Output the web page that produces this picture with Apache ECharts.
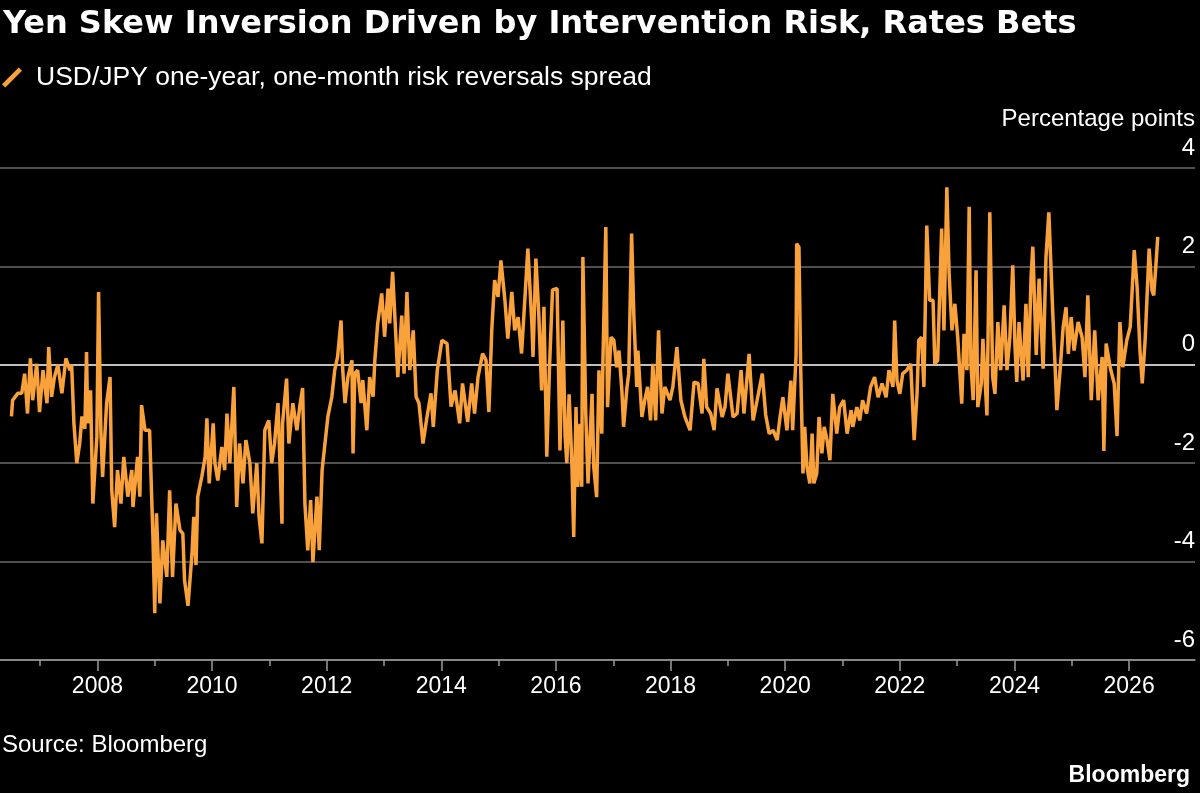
<!DOCTYPE html>
<html>
<head>
<meta charset="utf-8">
<script src="https://cdn.jsdelivr.net/npm/echarts@6.0.0/dist/echarts.min.js"></script>
<style>
  html, body { margin: 0; padding: 0; background: #000; }
  #chart { width: 1200px; height: 793px; }
</style>
</head>
<body>
<div id="chart"></div>
<script>
// USD/JPY one-year minus one-month risk reversal (decimal years)
var timeYears = [
    2006.50, 2006.52, 2006.61, 2006.68, 2006.73, 2006.78, 2006.83, 2006.87, 2006.94, 2006.99,
    2007.05, 2007.12, 2007.15, 2007.20, 2007.25, 2007.31, 2007.38, 2007.45, 2007.52, 2007.55,
    2007.59, 2007.64, 2007.69, 2007.73, 2007.78, 2007.81, 2007.83, 2007.88, 2007.92, 2007.99,
    2008.02, 2008.06, 2008.09, 2008.16, 2008.22, 2008.25, 2008.30, 2008.35, 2008.41, 2008.46,
    2008.53, 2008.60, 2008.62, 2008.70, 2008.74, 2008.77, 2008.83, 2008.91, 2008.97, 2009.00,
    2009.03, 2009.09, 2009.14, 2009.21, 2009.26, 2009.31, 2009.37, 2009.44, 2009.49, 2009.52,
    2009.58, 2009.65, 2009.68, 2009.72, 2009.75, 2009.82, 2009.88, 2009.91, 2009.95, 2010.02,
    2010.05, 2010.10, 2010.17, 2010.22, 2010.26, 2010.31, 2010.38, 2010.43, 2010.48, 2010.54,
    2010.59, 2010.66, 2010.71, 2010.78, 2010.82, 2010.87, 2010.92, 2010.99, 2011.04, 2011.09,
    2011.15, 2011.22, 2011.23, 2011.30, 2011.34, 2011.41, 2011.48, 2011.53, 2011.58, 2011.62,
    2011.67, 2011.72, 2011.76, 2011.83, 2011.87, 2011.92, 2011.97, 2012.02, 2012.09, 2012.14,
    2012.19, 2012.25, 2012.28, 2012.32, 2012.37, 2012.44, 2012.46, 2012.49, 2012.54, 2012.60,
    2012.63, 2012.70, 2012.75, 2012.81, 2012.84, 2012.89, 2012.96, 2013.01, 2013.07, 2013.10,
    2013.15, 2013.21, 2013.24, 2013.31, 2013.35, 2013.40, 2013.45, 2013.51, 2013.56, 2013.61,
    2013.68, 2013.75, 2013.82, 2013.86, 2013.93, 2014.01, 2014.10, 2014.17, 2014.24, 2014.32,
    2014.37, 2014.46, 2014.53, 2014.58, 2014.64, 2014.72, 2014.78, 2014.83, 2014.88, 2014.93,
    2014.99, 2015.04, 2015.11, 2015.16, 2015.23, 2015.28, 2015.34, 2015.40, 2015.46, 2015.51,
    2015.58, 2015.60, 2015.65, 2015.70, 2015.75, 2015.79, 2015.84, 2015.89, 2015.94, 2016.02,
    2016.07, 2016.12, 2016.16, 2016.19, 2016.23, 2016.28, 2016.31, 2016.35, 2016.38, 2016.42,
    2016.45, 2016.47, 2016.52, 2016.56, 2016.63, 2016.66, 2016.71, 2016.75, 2016.80, 2016.82,
    2016.87, 2016.90, 2016.96, 2017.01, 2017.06, 2017.10, 2017.15, 2017.18, 2017.24, 2017.27,
    2017.32, 2017.36, 2017.41, 2017.43, 2017.50, 2017.55, 2017.60, 2017.65, 2017.69, 2017.74,
    2017.79, 2017.85, 2017.90, 2017.99, 2018.04, 2018.11, 2018.18, 2018.25, 2018.34, 2018.41,
    2018.48, 2018.55, 2018.58, 2018.63, 2018.70, 2018.76, 2018.81, 2018.90, 2018.95, 2019.00,
    2019.09, 2019.16, 2019.23, 2019.28, 2019.37, 2019.44, 2019.51, 2019.60, 2019.66, 2019.72,
    2019.79, 2019.86, 2019.91, 2019.96, 2020.03, 2020.10, 2020.13, 2020.19, 2020.20, 2020.24,
    2020.27, 2020.31, 2020.34, 2020.38, 2020.43, 2020.47, 2020.50, 2020.55, 2020.59, 2020.64,
    2020.68, 2020.73, 2020.78, 2020.83, 2020.90, 2020.95, 2021.02, 2021.08, 2021.15, 2021.18,
    2021.25, 2021.30, 2021.35, 2021.42, 2021.49, 2021.56, 2021.62, 2021.69, 2021.76, 2021.81,
    2021.88, 2021.91, 2021.95, 2022.00, 2022.05, 2022.12, 2022.19, 2022.25, 2022.30, 2022.33,
    2022.38, 2022.42, 2022.47, 2022.52, 2022.58, 2022.61, 2022.66, 2022.73, 2022.77, 2022.82,
    2022.86, 2022.91, 2022.96, 2023.01, 2023.08, 2023.12, 2023.17, 2023.21, 2023.24, 2023.28,
    2023.33, 2023.36, 2023.42, 2023.45, 2023.52, 2023.57, 2023.62, 2023.66, 2023.71, 2023.76,
    2023.82, 2023.87, 2023.92, 2023.97, 2024.01, 2024.04, 2024.08, 2024.15, 2024.20, 2024.24,
    2024.29, 2024.32, 2024.38, 2024.43, 2024.50, 2024.55, 2024.60, 2024.67, 2024.71, 2024.74,
    2024.80, 2024.85, 2024.90, 2024.94, 2024.99, 2025.04, 2025.11, 2025.18, 2025.23, 2025.28,
    2025.34, 2025.40, 2025.46, 2025.53, 2025.56, 2025.60, 2025.67, 2025.74, 2025.79, 2025.84,
    2025.89, 2025.96, 2026.02, 2026.09, 2026.14, 2026.19, 2026.23, 2026.28, 2026.35, 2026.40,
    2026.43, 2026.47, 2026.50
];
var rrSpread = [
    -1.05, -0.72, -0.58, -0.58, -0.18, -0.99, 0.13, -0.72, 0.02, -0.96,
    -0.11, -0.78, 0.36, -0.65, -0.25, 0.00, -0.58, 0.13, -0.11, 0.00,
    -1.19, -2.00, -1.60, -1.05, -1.30, 0.26, -1.19, -0.52, -2.82, -1.46,
    1.48, -1.33, -2.28, -0.78, -0.25, -2.55, -3.30, -2.14, -2.82, -1.87,
    -2.68, -2.14, -2.89, -1.87, -2.68, -0.82, -1.33, -1.33, -3.57, -5.05,
    -3.02, -4.85, -3.57, -4.31, -2.55, -4.31, -2.82, -3.36, -3.43, -4.38,
    -4.90, -3.84, -3.09, -4.07, -2.68, -2.28, -1.87, -1.09, -2.41, -1.19,
    -2.00, -2.35, -1.67, -2.14, -0.99, -2.00, -0.45, -2.89, -1.60, -2.41,
    -1.53, -2.00, -3.02, -2.00, -3.09, -3.63, -1.33, -1.13, -2.00, -1.60,
    -0.78, -3.23, -1.19, -0.28, -1.60, -0.78, -1.33, -0.85, -0.47, -2.82,
    -3.77, -2.75, -4.01, -2.68, -3.77, -2.14, -1.60, -1.06, -0.65, -0.11,
    0.16, 0.90, -0.11, -0.78, -0.25, 0.09, -1.80, -0.18, -0.11, -0.78,
    -0.31, -1.33, -0.25, -0.65, 0.09, 0.84, 1.45, 0.57, 1.55, 0.84,
    1.89, 0.50, -0.25, 1.00, -0.18, 1.48, -0.11, 0.70, -0.65, -0.78,
    -1.60, -1.06, -0.58, -1.26, -0.11, 0.50, 0.43, -0.85, -0.52, -1.19,
    -0.38, -1.16, -0.38, -0.99, -0.25, 0.23, 0.09, -0.96, 0.70, 1.72,
    1.38, 2.12, 1.31, 0.53, 1.48, 0.70, 0.97, 0.23, 1.38, 2.36,
    0.84, 0.16, 2.16, 1.04, -0.52, 1.18, -1.87, 0.02, 1.52, 1.55,
    -1.74, 0.90, -1.46, -2.00, -0.60, -2.08, -3.50, -0.86, -2.48, -1.20,
    -2.48, 2.19, -0.99, -2.41, -0.59, -2.08, -2.69, -0.11, -1.40, 0.09,
    2.80, -0.86, 0.56, 0.50, -0.05, 0.29, -0.52, -1.26, -0.45, -0.18,
    2.67, 0.97, -0.45, 0.29, -1.06, -0.72, -0.45, -1.13, 0.02, -1.13,
    0.70, -0.99, -0.45, -0.72, -0.45, 0.36, -0.72, -1.06, -1.33, -0.35,
    -0.38, -0.99, 0.12, -0.86, -0.99, -1.33, -0.48, -1.06, -0.86, -0.18,
    -1.06, -0.99, -0.11, -0.99, 0.22, -1.13, -0.72, -0.18, -1.02, -1.40,
    -1.33, -1.53, -1.06, -0.66, -1.33, -0.32, -1.33, 0.22, 2.46, 2.39,
    -0.05, -2.21, -1.26, -2.08, -2.41, -1.40, -2.41, -2.21, -1.06, -1.80,
    -1.26, -1.53, -1.94, -0.59, -1.40, -0.86, -0.72, -1.40, -0.92, -1.26,
    -0.86, -1.13, -0.72, -0.99, -0.45, -0.25, -0.66, -0.38, -0.66, -0.11,
    -0.45, 0.90, -0.32, -0.59, -0.18, -0.11, 0.02, -1.53, -0.59, 0.50,
    0.56, -0.45, 2.83, 1.31, 1.31, 0.02, 0.09, 2.77, 0.70, 3.61,
    1.85, 0.70, 1.24, 0.56, -0.79, 0.63, -0.11, 3.21, 0.02, -0.72,
    1.92, -0.86, -0.39, 0.53, -1.03, 3.10, -0.25, -0.59, 0.87, -0.11,
    1.21, -0.11, 0.56, 2.02, 0.36, -0.35, 0.87, -0.32, 1.24, -0.25,
    1.79, 2.40, 0.20, 1.75, -0.08, 2.19, 3.10, 1.00, -0.05, -0.92,
    -0.05, 0.77, 1.17, 0.22, 0.97, 0.29, 0.87, 0.56, -0.25, 1.41,
    -0.72, 0.70, -0.72, 0.16, -1.75, 0.43, -0.05, -0.38, -1.45, 0.87,
    -0.05, 0.50, 0.77, 2.33, 1.58, 0.29, -0.38, 0.50, 2.36, 1.51,
    1.41, 2.06, 2.60
];
var majorYears = [2008, 2010, 2012, 2014, 2016, 2018, 2020, 2022, 2024, 2026];
var minorYears = [2007, 2009, 2011, 2013, 2015, 2017, 2019, 2021, 2023, 2025];
var xMin = 2006.3, xMax = 2027.15;
var seriesName = 'USD/JPY one-year, one-month risk reversals spread';

var orange = '#f9a13a';
var gridGray = '#6a6a6a';
var axisGray = '#9a9a9a';
var baseFont = 'Liberation Sans';

var chart = echarts.init(document.getElementById('chart'));

var axisCommon = {
    type: 'value',
    position: 'bottom',
    min: xMin,
    max: xMax,
    splitLine: {show: false}
};

chart.setOption({
    backgroundColor: '#000',
    animation: false,
    title: {
        text: 'Yen Skew Inversion Driven by Intervention Risk, Rates Bets',
        left: 3, top: 9, padding: 0,
        textStyle: {color: '#fff', fontFamily: 'DejaVu Sans', fontWeight: 'bold', fontSize: 32}
    },
    legend: {
        left: 2, top: 64, padding: 0,
        itemWidth: 20, itemHeight: 20,
        icon: 'path://M0,15 L15,0 L18,3 L3,18 Z',
        textStyle: {color: '#fff', fontFamily: baseFont, fontSize: 26.5, padding: [0, 0, 0, 9]},
        data: [seriesName]
    },
    grid: {left: 0, right: 5, top: 168, bottom: 133, containLabel: false},
    xAxis: [
        Object.assign({}, axisCommon, {
            axisLine: {onZero: false, lineStyle: {color: axisGray, width: 1.5}},
            axisTick: {customValues: majorYears, length: 11, lineStyle: {color: axisGray, width: 1.5}},
            axisLabel: {
                customValues: majorYears,
                formatter: function(v){ return String(Math.round(v)); },
                color: '#fff', fontFamily: baseFont, fontSize: 23, margin: 15
            }
        }),
        Object.assign({}, axisCommon, {
            axisLine: {show: false, onZero: false},
            axisTick: {customValues: minorYears, length: 6, lineStyle: {color: axisGray, width: 1.5}},
            axisLabel: {show: false}
        })
    ],
    yAxis: {
        type: 'value',
        position: 'right',
        min: -6, max: 4, interval: 2,
        axisLine: {show: false},
        axisTick: {show: false},
        axisLabel: {
            inside: true, margin: 0, verticalAlign: 'bottom', padding: [0, 0, 8, 0],
            color: '#fff', fontFamily: baseFont, fontSize: 24
        },
        splitLine: {lineStyle: {color: [gridGray, gridGray, gridGray, '#ffffff', gridGray, gridGray], width: 1.5}},
        name: 'Percentage points',
        nameLocation: 'end',
        nameGap: 37,
        nameTextStyle: {color: '#fff', fontFamily: baseFont, fontSize: 24, align: 'right', verticalAlign: 'bottom'}
    },
    series: [{
        name: seriesName,
        type: 'line',
        xAxisIndex: 0,
        showSymbol: false,
        color: orange,
        lineStyle: {color: orange, width: 3.5},
        data: timeYears.map(function(t, i){ return [t, rrSpread[i]]; })
    }],
    graphic: [
        {type: 'text', left: 2, top: 733,
         style: {text: 'Source: Bloomberg', fill: '#fff', font: '24px "Liberation Sans"'}},
        {type: 'text', right: 10, top: 764,
         style: {text: 'Bloomberg', fill: '#fff', font: 'bold 23px "Liberation Sans"'}}
    ]
});
</script>
</body>
</html>
